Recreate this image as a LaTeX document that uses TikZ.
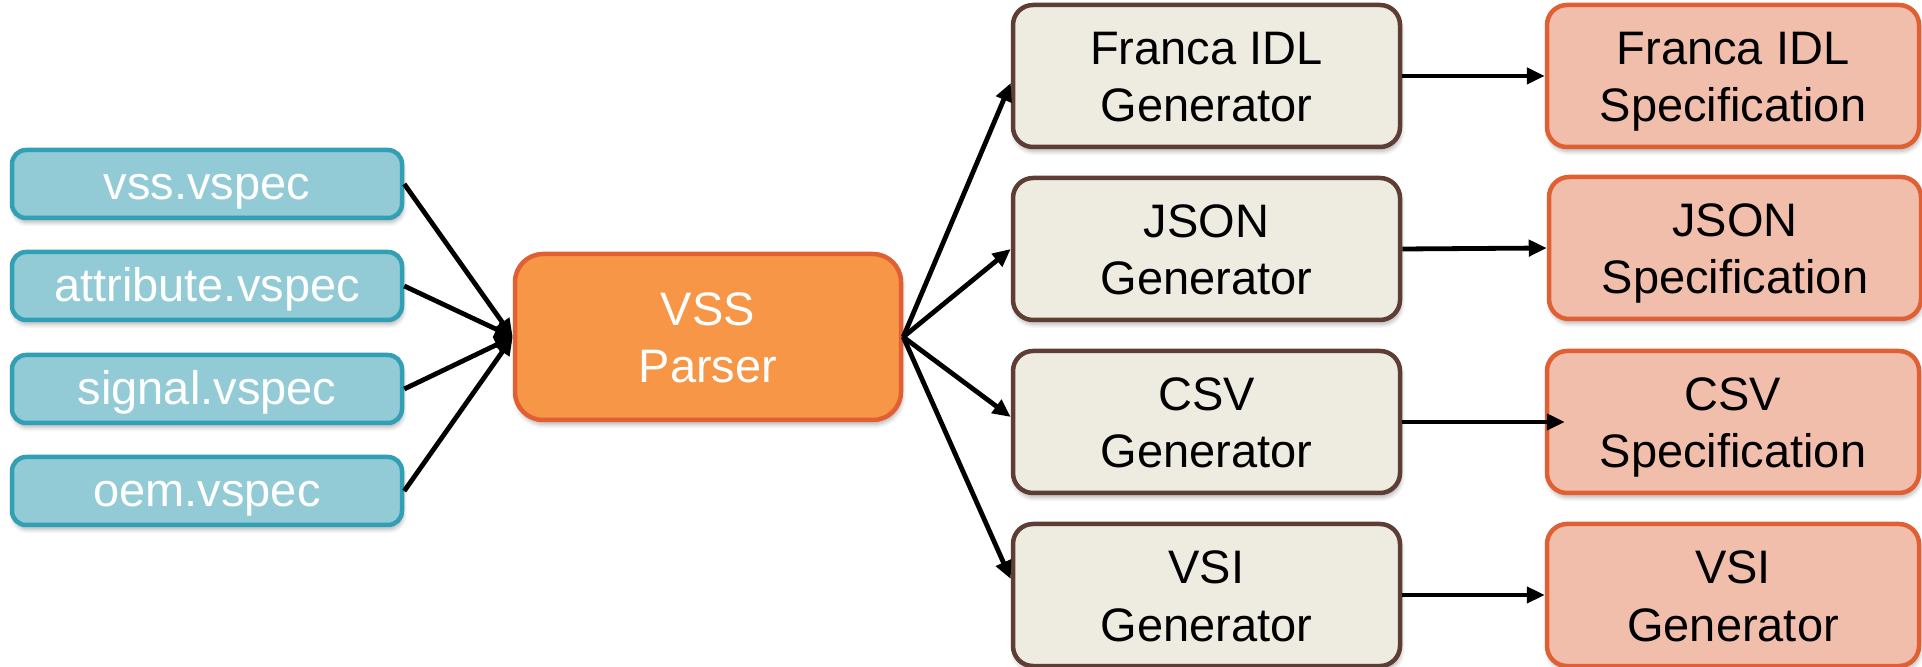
\documentclass[tikz,border=0pt]{standalone}
\usepackage{fontspec}
\setmainfont{Liberation Sans}
\usetikzlibrary{arrows.meta,shadows.blur}

\definecolor{inFill}{HTML}{92CBD6}
\definecolor{inLine}{HTML}{31A0B5}
\definecolor{parFill}{HTML}{F69646}
\definecolor{orgLine}{HTML}{E06034}
\definecolor{genFill}{HTML}{EEECE1}
\definecolor{genLine}{HTML}{5E3E34}
\definecolor{specFill}{HTML}{F1BEAB}

% two centred lines; the box's baseline is that of the second line
\newcommand{\twolines}[2]{\vbox{\baselineskip=28.5pt\halign{\hfil##\hfil\cr#1\cr#2\cr}}}

\tikzset{
  box/.style={rounded corners=10pt, line width=2.25pt,
    inner sep=0pt, font=\fontsize{23.5}{28.5}\selectfont,
    blur shadow={shadow xshift=0.6pt, shadow yshift=-2.2pt, shadow blur steps=6,
      shadow opacity=30}},
  twoline/.style={text height=50pt, text depth=4pt},
  inbox/.style={box, fill=inFill, draw=inLine, text=white,
    minimum width=195pt, minimum height=34pt, rounded corners=7pt,
    text height=20pt, text depth=4pt},
  parserbox/.style={box, twoline, fill=parFill, draw=orgLine, text=white,
    minimum width=193pt, minimum height=83pt, rounded corners=14pt},
  genbox/.style={box, twoline, fill=genFill, draw=genLine, text=black,
    minimum width=193.5pt, minimum height=71pt},
  specbox/.style={box, twoline, fill=specFill, draw=orgLine, text=black,
    minimum width=186pt, minimum height=71pt},
  flow/.style={line width=2.4pt, -{Triangle[length=9pt,width=8pt]}}
}

\begin{document}
\begin{tikzpicture}[x=0.5pt, y=-0.5pt]
  \useasboundingbox (0,0) rectangle (1922,667);

  % input specification files
  \node[inbox] (vss)  at (207,184) {vss.vspec};
  \node[inbox] (attr) at (207,286) {attribute.vspec};
  \node[inbox] (sig)  at (207,389) {signal.vspec};
  \node[inbox] (oem)  at (207,491) {oem.vspec};

  % parser
  \node[parserbox] (parser) at (708,337) {\twolines{VSS}{Parser}};

  % generators
  \node[genbox] (gfr)   at (1206.5,76)  {\twolines{Franca IDL}{Generator}};
  \node[genbox] (gjson) at (1206.5,249) {\twolines{JSON}{Generator}};
  \node[genbox] (gcsv)  at (1206.5,422) {\twolines{CSV}{Generator}};
  \node[genbox] (gvsi)  at (1206.5,595) {\twolines{VSI}{Generator}};

  % outputs
  \node[specbox] (sfr)   at (1733,76)  {\twolines{Franca IDL}{Specification}};
  \node[specbox] (sjson) at (1735,248) {\twolines{JSON}{Specification}};
  \node[specbox] (scsv)  at (1733,422) {\twolines{CSV}{Specification}};
  \node[specbox] (svsi)  at (1733,595) {\twolines{VSI}{Generator}};

  % inputs into the parser
  \foreach \n in {vss,attr,sig,oem}
    \draw[flow] (\n.east) -- (parser.west);

  % parser into the generators
  \draw[flow] (parser.east) -- ([yshift=-3.5pt]gfr.west);
  \draw[flow] (parser.east) -- (gjson.west);
  \draw[flow] (parser.east) -- ([yshift=2.5pt]gcsv.west);
  \draw[flow] (parser.east) -- ([yshift=8pt]gvsi.west);

  % generators into their outputs
  \draw[flow] (gfr.east)   -- (sfr.west);
  \draw[flow] (gjson.east) -- (sjson.west);
  \draw[flow] (gcsv.east)  -- ([xshift=10pt]scsv.west);
  \draw[flow] (gvsi.east)  -- (svsi.west);
\end{tikzpicture}
\end{document}
